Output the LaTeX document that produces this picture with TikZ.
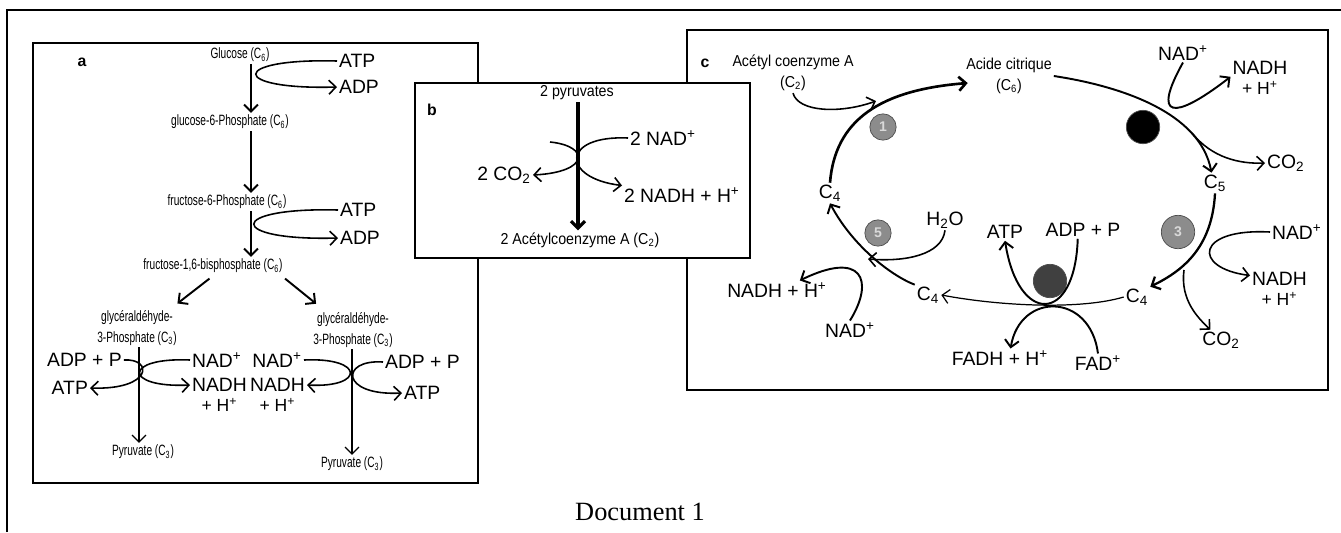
\documentclass[tikz,border=0pt]{standalone}
\usepackage{fontspec}
\setmainfont{Liberation Sans}
\newfontfamily\narrowfont[FakeStretch=0.68]{Liberation Sans}
\newfontfamily\condfont[FakeStretch=0.9]{Liberation Sans}
\newfontfamily\docfont{Liberation Serif}
\usetikzlibrary{arrows.meta, positioning, calc}
\newcommand{\chsub}[1]{\textsubscript{#1}}
\newcommand{\chplus}{\textsuperscript{+}}

\begin{document}
\begin{tikzpicture}[
  x=0.02cm, y=-0.02cm,
  panel/.style={draw, line width=0.8pt},
  lbl/.style={font=\fontsize{9}{10}\selectfont\bfseries, inner sep=1pt},
  mola/.style={font=\narrowfont\fontsize{8.5}{11.5}\selectfont, inner sep=1pt, align=center},
  molc/.style={font=\condfont\fontsize{9}{12}\selectfont, inner sep=1pt, align=center},
  big/.style={font=\fontsize{11}{12}\selectfont, inner sep=1pt},
  hplus/.style={font=\fontsize{10}{11}\selectfont, inner sep=0.5pt},
  flow/.style={->, line width=1.1pt},
  side/.style={->, line width=0.9pt},
  disk/.style={circle, draw=black!70, fill=black!45, minimum size=15pt, inner sep=0pt,
    font=\fontsize{8}{8}\selectfont\bfseries, text=black!15},
  >={Straight Barb[length=4pt, width=8pt]}
]
  \useasboundingbox (0,0) rectangle (1341,532);

  % frames
  \draw[line width=0.6pt] (7,532) -- (7,10) -- (1341,10);
  \draw[panel] (33,43) rectangle (478,483);
  \draw[panel] (687,30) rectangle (1328,390);
  \draw[panel, fill=white] (415,83) rectangle (750,258);

  % a : glycolyse
  \node[lbl] (la) at (82,62) {a};
  \node[mola] (glc) at (240,55) {Glucose (C\chsub{6})};
  \node[mola] (g6p) at (230,122) {glucose-6-Phosphate (C\chsub{6})};
  \node[mola] (f6p) at (227,202) {fructose-6-Phosphate (C\chsub{6})};
  \node[mola] (f16) at (213,266) {fructose-1,6-bisphosphate (C\chsub{6})};
  \node[big, anchor=west] (atp1) at (337,61) {ATP};
  \node[big, anchor=west] (adp1) at (337,87) {ADP};
  \node[big, anchor=west] (atp2) at (338,210) {ATP};
  \node[big, anchor=west] (adp2) at (338,238) {ADP};
  \node[mola] (gapl) at (137,328) {glycéraldéhyde-\\3-Phosphate (C\chsub{3})};
  \node[mola] (gapr) at (353,330) {glycéraldéhyde-\\3-Phosphate (C\chsub{3})};
  \node[big, anchor=west] (adpl) at (45,360) {ADP + P};
  \node[big, anchor=east] (atpl) at (90,388) {ATP};
  \node[big, anchor=west] (nadl) at (190,360) {NAD\chplus};
  \node[big, anchor=west] (nadhl) at (190,385) {NADH};
  \node[hplus, below=2pt of nadhl] (hl) {+ H\chplus};
  \node[big, anchor=east] (nadr) at (304,360) {NAD\chplus};
  \node[big, anchor=east] (nadhr) at (307,385) {NADH};
  \node[hplus, below=2pt of nadhr] (hr) {+ H\chplus};
  \node[big, anchor=west] (adpr) at (383,362) {ADP + P};
  \node[big, anchor=west] (atpr) at (402,393) {ATP};
  \node[mola] (pyrl) at (143,452) {Pyruvate (C\chsub{3})};
  \node[mola] (pyrr) at (352,464) {Pyruvate (C\chsub{3})};

  \coordinate (spa) at (251,0);
  \coordinate (spl) at (139,0);
  \coordinate (spr) at (352,0);
  \draw[flow] (glc.south -| spa) -- (g6p.north -| spa);
  \draw[flow] (g6p.south -| spa) -- (f6p.north -| spa);
  \draw[flow] (f6p.south -| spa) -- (f16.north -| spa);
  \draw[side] (atp1.west) .. controls (229,58) and (229,90) .. (adp1.west);
  \draw[side] (atp2.west) .. controls (226,207) and (226,241) .. (adp2.west);
  \draw[flow] ([xshift=-2pt,yshift=-2pt]f16.south) -- ([xshift=23pt,yshift=3pt]gapl.north);
  \draw[flow] ([xshift=41pt,yshift=-2pt]f16.south) -- ([xshift=-21pt,yshift=4pt]gapr.north);
  \draw[side, line width=0.7pt] (gapl.south -| spl) -- (pyrl.north -| spl);
  \draw[side, line width=0.7pt] (gapr.south -| spr) -- (pyrr.north -| spr);
  \draw[side] (adpl.east) .. controls (153,358) and (153,390) .. (atpl.east);
  \draw[side] (nadl.west) .. controls (123,357) and (123,388) .. (nadhl.west);
  \draw[side] (nadr.east) .. controls (365,357) and (365,388) .. (nadhr.east);
  \draw[side] (adpr.west) .. controls (340,359) and (340,396) .. (atpr.west);

  % b : pyruvates
  \node[lbl] (lb) at (432,110) {b};
  \node[molc] (pyr2) at (577,93) {2 pyruvates};
  \node[molc] (acoa) at (580,240) {2 Acétylcoenzyme A (C\chsub{2})};
  \node[big, anchor=west] (nad2) at (628,138) {2 NAD\chplus};
  \node[big, anchor=east] (co2b) at (533,175) {2 CO\chsub{2}};
  \node[big, anchor=west] (nadh2) at (622,195) {2 NADH + H\chplus};
  \coordinate (spb) at (578,0);
  \coordinate (co2in) at (550,142);
  \draw[flow, line width=1.8pt] (pyr2.south -| spb) -- (acoa.north -| spb);
  \draw[side] (co2in) .. controls (590,146) and (590,172) .. (co2b.east);
  \draw[side] (nad2.west) .. controls (561,135) and (561,178) .. (nadh2.north west);

  % c : cycle de Krebs
  \node[lbl] (lc) at (705,63) {c};
  \node[molc] (acl) at (793,73) {Acétyl coenzyme A\\(C\chsub{2})};
  \node[molc] (cit) at (1009,76) {Acide citrique\\(C\chsub{6})};
  \node[big] (nadc1) at (1183,53) {NAD\chplus};
  \node[big] (nadhc1) at (1260,68) {NADH};
  \node[hplus, below=2pt of nadhc1] (hc1) {+ H\chplus};
  \node[big, anchor=west] (co2c1) at (1265,163) {CO\chsub{2}};
  \node[big] (c5) at (1215,183) {C\chsub{5}};
  \node[big] (c4a) at (830,193) {C\chsub{4}};
  \node[big] (c4b) at (928,295) {C\chsub{4}};
  \node[big] (c4c) at (1137,297) {C\chsub{4}};
  \node[big] (h2o) at (945,220) {H\chsub{2}O};
  \node[big] (atpc) at (1005,232) {ATP};
  \node[big] (adpc) at (1083,230) {ADP + P};
  \node[big, anchor=west] (nadc3) at (1270,232) {NAD\chplus};
  \node[big, anchor=west] (nadhc3) at (1250,279) {NADH};
  \node[hplus, below=2pt of nadhc3] (hc3) {+ H\chplus};
  \node[big] (co2c3) at (1221,340) {CO\chsub{2}};
  \node[big] (fadh) at (1000,358) {FADH + H\chplus};
  \node[big] (fad) at (1098,363) {FAD\chplus};
  \node[big] (nadhc5) at (777,290) {NADH + H\chplus};
  \node[big] (nadc5) at (850,330) {NAD\chplus};

  \node[disk] (d1) at (883,127) {1};
  \node[disk, fill=black, minimum size=19pt] (d2) at (1143,127) {};
  \node[disk, minimum size=19pt] (d3) at (1178,232) {3};
  \node[disk, fill=black!75, minimum size=19pt] (d4) at (1050,281) {};
  \node[disk] (d5) at (878,233) {5};

  \coordinate (acin) at (876,101);
  \coordinate (co2out1) at (1192,133);
  \coordinate (co2out3) at (1184,270);
  \coordinate (h2oin) at (868,259);
  \draw[flow, line width=1.5pt] (c4a.north) .. controls (835,120) and (880,90) .. ([xshift=2pt,yshift=-4pt]cit.west);
  \draw[side] (acl.south) .. controls (798,112) and (840,114) .. (acin);
  \draw[flow] (cit.east) .. controls (1120,86) and (1200,112) .. ([xshift=-2pt]c5.north);
  \draw[side, line width=1.1pt] (nadc1.south) .. controls (1152,118) and (1172,122) .. ([yshift=-5pt]nadhc1.west);
  \draw[side] (co2out1) .. controls (1212,158) and (1240,164) .. (co2c1.west);
  \draw[flow, line width=1.3pt] (c5.south) .. controls (1212,250) and (1180,272) .. (c4c.north east);
  \draw[side] (nadc3.west) .. controls (1195,228) and (1192,268) .. ([yshift=2pt]nadhc3.west);
  \draw[side] (co2out3) .. controls (1180,300) and (1198,318) .. ([xshift=-6pt]co2c3.north);
  \draw[side, line width=0.7pt] (c4c.west) .. controls (1080,310) and (1000,306) .. (c4b.east);
  \draw[flow] ([xshift=-3pt]adpc.south) .. controls (1075,325) and (1018,325) .. (atpc.south);
  \draw[flow] (fad.north) .. controls (1090,292) and (1020,292) .. ([xshift=6pt]fadh.north);
  \draw[flow] (c4b.north west) .. controls (890,275) and (852,245) .. (c4a.south);
  \draw[side] (h2o.south) .. controls (942,255) and (905,262) .. (h2oin);
  \draw[flow] (nadc5.north) .. controls (875,280) and (862,250) .. ([xshift=13pt]nadhc5.north);

  \node[font=\docfont\fontsize{15}{17}\selectfont] (doc) at (640,512) {Document 1};
\end{tikzpicture}
\end{document}
